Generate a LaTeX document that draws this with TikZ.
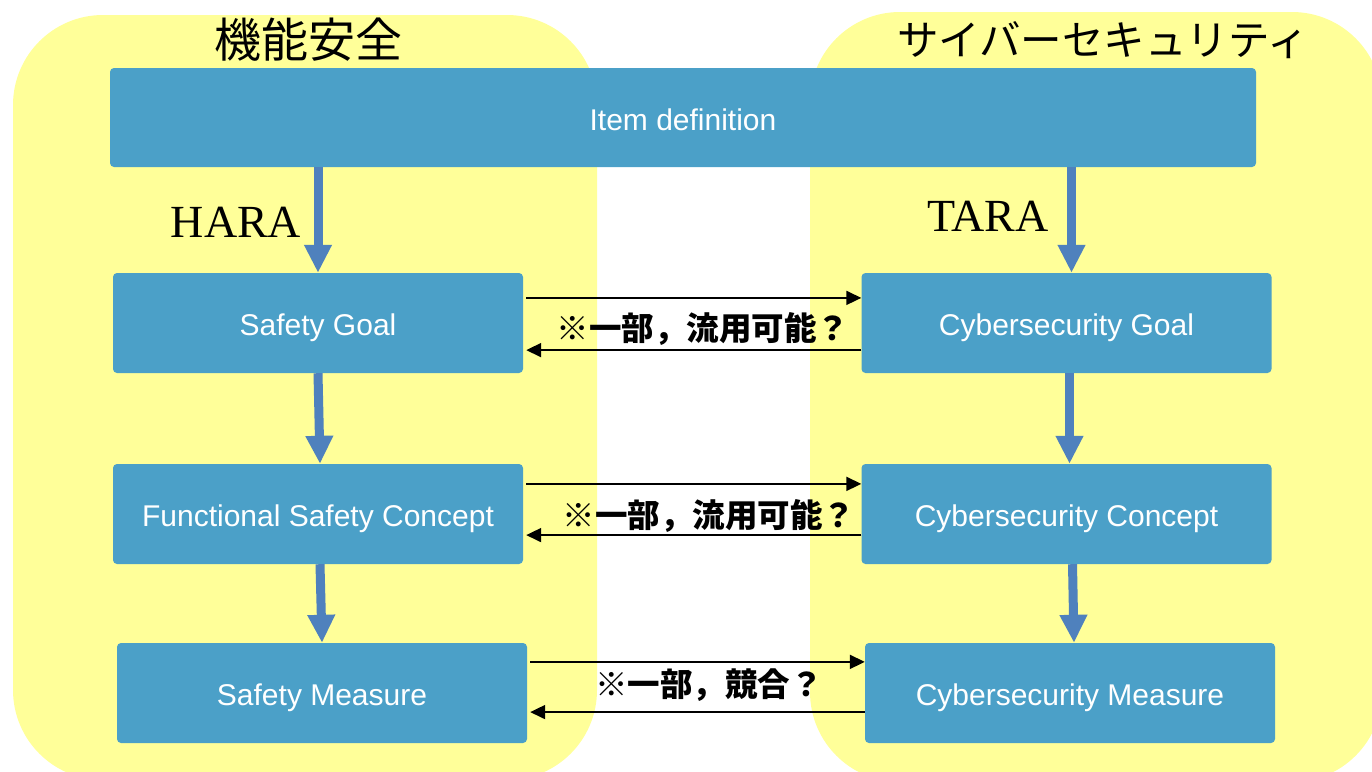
\documentclass[tikz,border=0pt]{standalone}
\usepackage{fontspec}
\setmainfont{Liberation Serif}
\setsansfont{Liberation Sans}
\newfontfamily\cjk{Noto Sans CJK JP}
\usetikzlibrary{arrows.meta,calc}
\definecolor{ylw}{RGB}{255,255,153}
\definecolor{boxblue}{RGB}{75,160,200}
\definecolor{arrblue}{RGB}{79,129,189}
\tikzset{
  stepbox/.style={fill=boxblue,rounded corners=4pt,inner sep=0pt,minimum width=410pt,minimum height=100pt,text=white,text height=31pt,text depth=6pt,font=\sffamily\fontsize{30}{33}\selectfont},
  bigarrow/.style={draw=arrblue,line width=9pt,-{Triangle[length=28pt,width=26pt]}},
  thinarrow/.style={draw=black,line width=1.8pt,-{Triangle[length=15pt,width=14pt]}},
  jlabel/.style={font=\cjk\bfseries\fontsize{32.5}{36}\selectfont,inner sep=0pt},
  jtitle/.style={font=\cjk\fontsize{41.5}{46}\selectfont,inner sep=0pt},
  serifl/.style={font=\rmfamily\fontsize{46}{50}\selectfont,inner sep=0pt},
  zone/.style={fill=ylw,rounded corners=90pt}
}
\begin{document}
\begin{tikzpicture}[x=1pt,y=-1pt]
\useasboundingbox (0,0) rectangle (1372,771);
\fill[white] (0,0) rectangle (1372,771);
\fill[zone] (13,15) rectangle (597,780);
\fill[zone] (810,12) rectangle (1382,782);
\node[jtitle,font=\cjk\fontsize{47}{50}\selectfont] (tfs) at (308,40) {機能安全};
\node[jtitle] (tcs) at (1103,40) {サイバーセキュリティ};
\node[stepbox,minimum width=1146pt,minimum height=99pt] (item) at (683,117.5) {Item definition};
\node[stepbox] (sg) at (318,323) {Safety Goal};
\node[stepbox] (cg) at (1066.5,323) {Cybersecurity Goal};
\node[stepbox] (fsc) at (318,514) {Functional Safety Concept};
\node[stepbox] (cc) at (1066.5,514) {Cybersecurity Concept};
\node[stepbox] (sm) at (322,693) {Safety Measure};
\node[stepbox] (cm) at (1070,693) {Cybersecurity Measure};
\node[serifl] (hara) at (236,222) {HARA};
\node[serifl] (tara) at (988,216) {TARA};
\draw[bigarrow] (item.south -| sg.north) -- (sg.north);
\draw[bigarrow] ($(item.south -| cg.north)+(5,0)$) -- ($(cg.north)+(5,0)$);
\draw[bigarrow] (sg.south) -- ($(fsc.north)+(2,0)$);
\draw[bigarrow] ($(cg.south)+(3,0)$) -- ($(cc.north)+(3,0)$);
\draw[bigarrow] ($(fsc.south)+(2,0)$) -- (sm.north);
\draw[bigarrow] ($(cc.south)+(6,0)$) -- ($(cm.north)+(4,0)$);
\draw[thinarrow] ($(sg.north east)!0.25!(sg.south east)+(3,0)$) -- ($(cg.north west)!0.25!(cg.south west)$);
\draw[thinarrow] ($(cg.north west)!0.77!(cg.south west)$) -- ($(sg.north east)!0.77!(sg.south east)+(3,0)$);
\node[jlabel] (l1) at (703,329) {※一部，流用可能？};
\draw[thinarrow] ($(fsc.north east)!0.2!(fsc.south east)+(3,0)$) -- ($(cc.north west)!0.2!(cc.south west)$);
\draw[thinarrow] ($(cc.north west)!0.71!(cc.south west)$) -- ($(fsc.north east)!0.71!(fsc.south east)+(3,0)$);
\node[jlabel] (l2) at (709,516) {※一部，流用可能？};
\draw[thinarrow] ($(sm.north east)!0.19!(sm.south east)+(3,0)$) -- ($(cm.north west)!0.19!(cm.south west)$);
\draw[thinarrow] ($(cm.north west)!0.69!(cm.south west)$) -- ($(sm.north east)!0.69!(sm.south east)+(3,0)$);
\node[jlabel] (l3) at (709,685) {※一部，競合？};
\end{tikzpicture}
\end{document}
